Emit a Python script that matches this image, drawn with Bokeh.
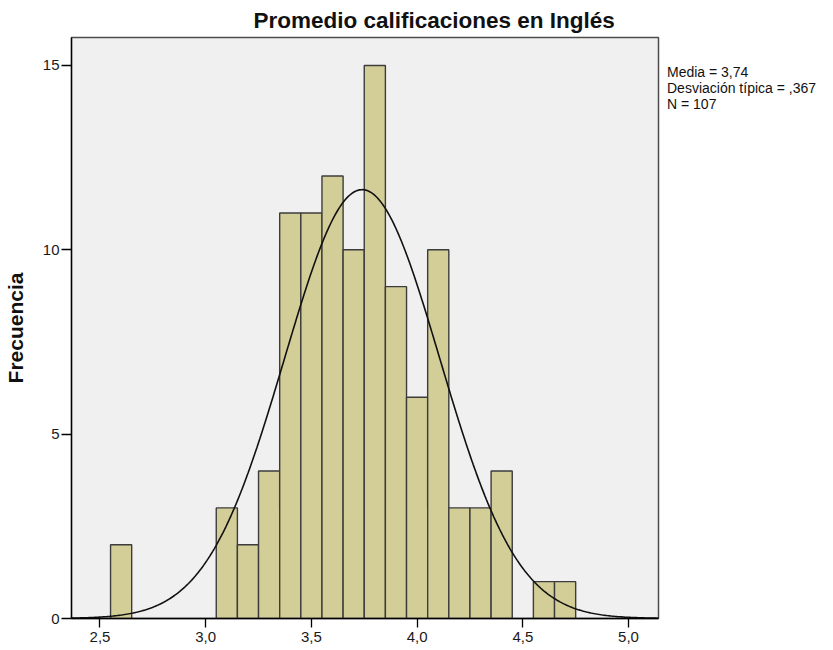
import numpy as np
from bokeh.plotting import figure
from bokeh.models import Range1d, FixedTicker, Legend, LegendItem
from bokeh.core.properties import value
from bokeh.embed import file_html
from bokeh.resources import INLINE

# ---- data ----
title_text = "Promedio calificaciones en Inglés"
y_label = "Frecuencia"
bin_centers = [2.6, 3.1, 3.2, 3.3, 3.4, 3.5, 3.6, 3.7, 3.8, 3.9, 4.0, 4.1, 4.2, 4.3, 4.4, 4.6, 4.7]
counts = [2, 3, 2, 4, 11, 11, 12, 10, 15, 9, 6, 10, 3, 3, 4, 1, 1]
bin_width = 0.1
mean = 3.74
sd = 0.367
n = 107
x_ticks = [2.5, 3.0, 3.5, 4.0, 4.5, 5.0]
x_tick_labels = ["2,5", "3,0", "3,5", "4,0", "4,5", "5,0"]
y_ticks = [0, 5, 10, 15]
stats_lines = ["Media = 3,74", "Desviación típica = ,367", "N = 107"]

FONT = "Liberation Sans"
x_start, x_end = 2.3653, 5.1418
y_start, y_end = 0, 15.758

p = figure(frame_width=587, frame_height=581, output_backend="svg", toolbar_location=None,
           x_range=Range1d(x_start, x_end), y_range=Range1d(y_start, y_end),
           min_border_left=70, min_border_right=174, min_border_top=37,
           min_border_bottom=30)

p.background_fill_color = "#F0F0F0"
p.border_fill_color = "white"
p.outline_line_color = "#4d4d4d"
p.outline_line_width = 1.5
p.xgrid.visible = False
p.ygrid.visible = False

# title
p.title.text = title_text
p.title.text_font = FONT
p.title.text_font_size = "22.5px"
p.title.text_font_style = "bold"
p.title.text_color = "#111111"
p.title.align = "left"
p.title.offset = 182
p.title.standoff = 10

# bars
p.vbar(x=bin_centers, top=counts, width=bin_width, bottom=0,
       fill_color="#D3CE97", line_color="#3c3c3c", line_width=1.4)

# fitted normal curve
xs = np.linspace(x_start, x_end, 400)
ys = n * bin_width * np.exp(-0.5 * ((xs - mean) / sd) ** 2) / (sd * np.sqrt(2 * np.pi))
p.line(xs, ys, line_color="#111111", line_width=1.6)

# axes
for ax in (p.xaxis[0], p.yaxis[0]):
    ax.axis_line_color = "black"
    ax.axis_line_width = 1.3
    ax.major_tick_line_color = "black"
    ax.major_tick_line_width = 1.3
    ax.major_tick_in = 0
    ax.minor_tick_line_color = None
    ax.major_label_text_font = FONT
    ax.major_label_text_font_size = "15px"
    ax.major_label_text_color = "#1a1a1a"

p.xaxis.ticker = FixedTicker(ticks=x_ticks)
p.xaxis.major_label_overrides = {t: l for t, l in zip(x_ticks, x_tick_labels)}
p.xaxis.major_tick_out = 9
p.xaxis.major_label_standoff = 4

p.yaxis.ticker = FixedTicker(ticks=y_ticks)
p.yaxis.major_tick_out = 10
p.yaxis.major_label_standoff = 2
p.yaxis.axis_label = y_label
p.yaxis.axis_label_text_font = FONT
p.yaxis.axis_label_text_font_size = "21px"
p.yaxis.axis_label_text_font_style = "bold"
p.yaxis.axis_label_text_color = "#111111"
p.yaxis.axis_label_standoff = 13

# statistics text (legend without glyphs, in the right border)
dummy = p.line([mean], [0], line_alpha=0)
items = [LegendItem(label=value(s), renderers=[dummy]) for s in stats_lines]
legend = Legend(items=items, location=(9, 506), orientation="vertical",
                glyph_width=0, glyph_height=13, label_height=13, label_standoff=0,
                spacing=0, padding=0, margin=0, border_line_color=None,
                background_fill_alpha=0, label_text_font=FONT,
                label_text_font_size="14px", label_text_color="#111111")
p.add_layout(legend, "right")

open("out.html", "w").write(file_html(p, INLINE))
